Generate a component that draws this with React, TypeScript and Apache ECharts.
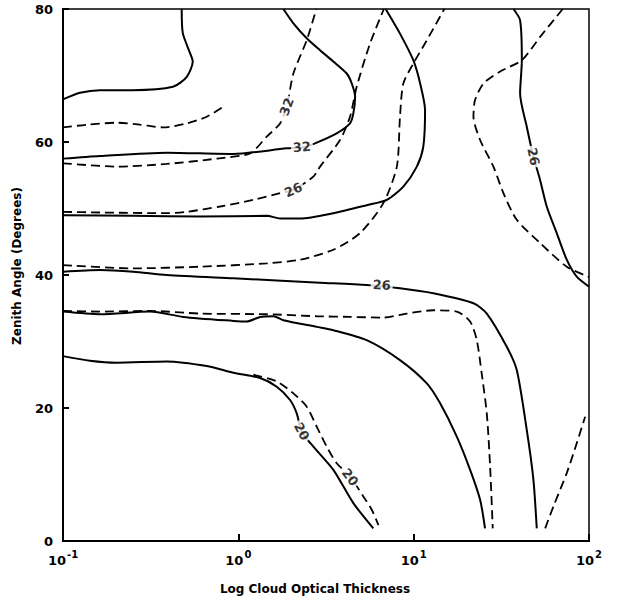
import { useEffect, useRef } from "react";
import * as echarts from "echarts";

// x values are log10 of cloud optical thickness, y values are zenith angle (degrees)
const xTickValues = [-1, 0, 1, 2];
const yTickValues = [0, 20, 40, 60, 80];

const curveA_solid = [[-0.323, 80], [-0.317, 76.4], [-0.276, 73.4], [-0.26, 72.1], [-0.294, 69.8], [-0.373, 68.3], [-0.601, 67.8], [-0.789, 67.8], [-0.903, 67.4], [-1, 66.4]];
const curveB_dashed = [[-1, 62.2], [-0.865, 62.6], [-0.694, 62.9], [-0.561, 62.6], [-0.428, 62.2], [-0.294, 62.8], [-0.18, 63.8], [-0.086, 65.3]];
const curveC_solid32 = [[0.257, 80], [0.314, 77.85], [0.39, 75.6], [0.466, 73.8], [0.542, 72.1], [0.618, 70.3], [0.647, 68.8], [0.666, 66.8], [0.656, 64.3], [0.637, 62.8], [0.561, 61.3], [0.4375, 59.8], [0.369, 59.2], [0.276, 59.05], [-0.03, 58.2], [-0.408, 58.4], [-0.789, 57.9], [-1, 57.5]];
const curveD_dashed32 = [[-1, 56.8], [-0.694, 56.3], [-0.408, 56.7], [-0.123, 57.5], [0.067, 58.3], [0.162, 60.8], [0.238, 62.8], [0.276, 65.3], [0.314, 70.3], [0.39, 75.3], [0.445, 80]];
const curveF_solid = [[-1, 49], [-0.599, 48.9], [-0.218, 48.8], [0.162, 48.9], [0.238, 48.5], [0.352, 48.5], [0.542, 49.3], [0.732, 50.5], [0.847, 51.3], [0.941, 53.3], [1.018, 56.3], [1.055, 59.3], [1.065, 64.8], [1.037, 68.8], [0.998, 72.3], [0.922, 76.3], [0.84, 80]];
const curveG_dashed26 = [[-1, 49.5], [-0.789, 49.4], [-0.408, 49.3], [-0.294, 49.5], [-0.104, 50.3], [0.086, 51.3], [0.238, 52.3], [0.314, 52.8], [0.428, 54.8], [0.466, 56.3], [0.58, 60.3], [0.637, 63.8], [0.675, 68.3], [0.751, 74.8], [0.83, 80]];
const curveH_dashed = [[-1, 41.5], [-0.599, 41], [-0.218, 41.25], [0.162, 41.75], [0.352, 42.3], [0.542, 43.8], [0.694, 46.3], [0.827, 50.8], [0.904, 56.3], [0.922, 63.8], [0.941, 68.8], [0.998, 71.8], [1.075, 75.3], [1.175, 80]];
const curveI_dashed = [[1.85, 80], [1.721, 75.8], [1.617, 72.3], [1.493, 70.6], [1.398, 68.8], [1.35, 66.3], [1.341, 63.8], [1.379, 60.3], [1.455, 56.3], [1.512, 52.3], [1.588, 48.3], [1.721, 44.8], [1.873, 41.25], [2, 39.7]];
const curveJ_solid26 = [[1.569, 80], [1.607, 78.3], [1.617, 72.3], [1.607, 67.3], [1.645, 62.3], [1.683, 57.8], [1.721, 54.3], [1.759, 50.3], [1.816, 46.3], [1.873, 42.3], [1.93, 39.75], [2, 38.25]];
const curveK_solid26 = [[-1, 40.5], [-0.789, 40.75], [-0.599, 40.5], [-0.408, 40], [-0.029, 39.5], [0.466, 38.85], [0.732, 38.5], [0.922, 38], [1.112, 37.25], [1.341, 35.75], [1.417, 34.2], [1.531, 29.2], [1.588, 25.7], [1.645, 16.7], [1.683, 9.2], [1.702, 1.9]];
const curveL_dashed = [[-1, 34.6], [-0.789, 34.5], [-0.504, 34.6], [-0.218, 34.2], [0.162, 34.1], [0.447, 33.8], [0.637, 33.7], [0.827, 33.6], [0.961, 34.2], [1.112, 34.7], [1.246, 34.5], [1.322, 33], [1.36, 30.2], [1.388, 25.2], [1.417, 19.2], [1.436, 11.2], [1.451, 1.9]];
const curveM_solid = [[-1, 34.5], [-0.789, 34.1], [-0.504, 34.5], [-0.314, 33.7], [-0.029, 33.1], [0.048, 33], [0.124, 33.7], [0.2, 33.8], [0.257, 33.2], [0.447, 32.2], [0.542, 31.7], [0.732, 30.2], [0.922, 27.2], [1.075, 23.7], [1.151, 20.7], [1.246, 15.7], [1.322, 10.7], [1.379, 6.2], [1.407, 1.9]];
const curveN_solid20 = [[-1, 27.8], [-0.846, 27.1], [-0.694, 26.8], [-0.408, 27], [-0.18, 26.3], [-0.029, 25.3], [0.124, 24.5], [0.219, 23.2], [0.295, 21.2], [0.333, 19.2], [0.362, 16.4], [0.428, 14.2], [0.542, 10.7], [0.656, 5.7], [0.77, 1.9]];
const curveO_dashed20 = [[0.086, 25], [0.219, 24], [0.314, 22.2], [0.39, 20.2], [0.447, 17.2], [0.504, 14.2], [0.561, 11.7], [0.637, 9.7], [0.713, 6.7], [0.761, 4.7], [0.799, 2.4]];
const curveP_dashed = [[1.75, 1.9], [1.797, 5.2], [1.873, 10.2], [1.93, 14.7], [1.978, 18.7]];

const solidCurves = [curveA_solid, curveC_solid32, curveF_solid, curveJ_solid26, curveK_solid26, curveM_solid, curveN_solid20];
const dashedCurves = [curveB_dashed, curveD_dashed32, curveG_dashed26, curveH_dashed, curveI_dashed, curveL_dashed, curveO_dashed20, curveP_dashed];

const contourLabelText = ["32", "32", "26", "26", "26", "20", "20"];
const contourLabelPos = [[0.276, 65.3], [0.363, 59.25], [0.314, 52.8], [1.683, 57.8], [0.818, 38.5], [0.362, 16.5], [0.637, 9.6]];
const contourLabelRotate = [70, 5, 25, -78, -3, -62, -52];

const FONT = "DejaVu Sans";
const INK = "#000";

export default function App() {
  const ref = useRef<HTMLDivElement>(null);
  useEffect(() => {
    document.body.style.margin = "0";
    const chart = echarts.init(ref.current!, null, { renderer: "svg" });
    const series: any[] = [];
    solidCurves.forEach((c) =>
      series.push({
        type: "line",
        data: c,
        showSymbol: false,
        smooth: 0.25,
        lineStyle: { color: INK, width: 2, type: "solid" },
        silent: true,
      })
    );
    dashedCurves.forEach((c) =>
      series.push({
        type: "line",
        data: c,
        showSymbol: false,
        smooth: 0.25,
        lineStyle: { color: INK, width: 1.8, type: [9, 5] },
        silent: true,
      })
    );
    series.push({
      type: "scatter",
      symbolSize: 0,
      z: 10,
      silent: true,
      data: contourLabelPos.map((p, i) => ({
        value: p,
        label: {
          show: true,
          position: "inside",
          formatter: contourLabelText[i],
          rotate: contourLabelRotate[i],
          color: INK,
          fontFamily: FONT,
          fontWeight: "bold",
          fontSize: 13,
          textBorderWidth: 0,
          backgroundColor: "#fff",
          padding: [0, 2],
        },
      })),
    });
    chart.setOption({
      animation: false,
      backgroundColor: "#fff",
      grid: {
        left: 63,
        top: 9,
        width: 526,
        height: 532,
        show: true,
        borderColor: INK,
        borderWidth: 1.5,
        backgroundColor: "transparent",
      },
      xAxis: {
        type: "value",
        min: -1,
        max: 2,
        interval: 1,
        name: "Log Cloud Optical Thickness",
        nameLocation: "middle",
        nameGap: 42,
        nameTextStyle: {
          fontFamily: FONT,
          fontWeight: "bold",
          fontSize: 12,
          color: INK,
          padding: [0, 22, 0, 0],
        },
        axisLine: { show: true, onZero: false, lineStyle: { color: INK, width: 2 } },
        axisTick: { show: true, inside: true, length: 7, lineStyle: { color: INK, width: 2 } },
        splitLine: { show: false },
        axisLabel: {
          margin: 7,
          formatter: (v: number) => {
            const e = xTickValues.includes(Math.round(v)) ? Math.round(v) : v;
            return `{b|10}{s|${e}}`;
          },
          rich: {
            b: { fontFamily: FONT, fontWeight: "bold", fontSize: 13, color: INK, padding: [6, 0, 0, 0] },
            s: { fontFamily: FONT, fontWeight: "bold", fontSize: 10, color: INK, padding: [0, 0, 6, 1] },
          },
        },
      },
      yAxis: {
        type: "value",
        min: 0,
        max: 80,
        interval: 20,
        name: "Zenith Angle (Degrees)",
        nameLocation: "middle",
        nameGap: 40,
        nameTextStyle: {
          fontFamily: FONT,
          fontWeight: "bold",
          fontSize: 12,
          color: INK,
          padding: [0, 0, 0, 18],
        },
        axisLine: { show: true, onZero: false, lineStyle: { color: INK, width: 2 } },
        axisTick: { show: true, inside: true, length: 6, lineStyle: { color: INK, width: 2 } },
        splitLine: { show: false },
        axisLabel: {
          margin: 10,
          fontFamily: FONT,
          fontWeight: "bold",
          fontSize: 13,
          color: INK,
          formatter: (v: number) => (yTickValues.includes(v) ? String(v) : ""),
        },
      },
      series,
    });
    return () => chart.dispose();
  }, []);
  return <div ref={ref} style={{ width: 621, height: 600 }} />;
}
